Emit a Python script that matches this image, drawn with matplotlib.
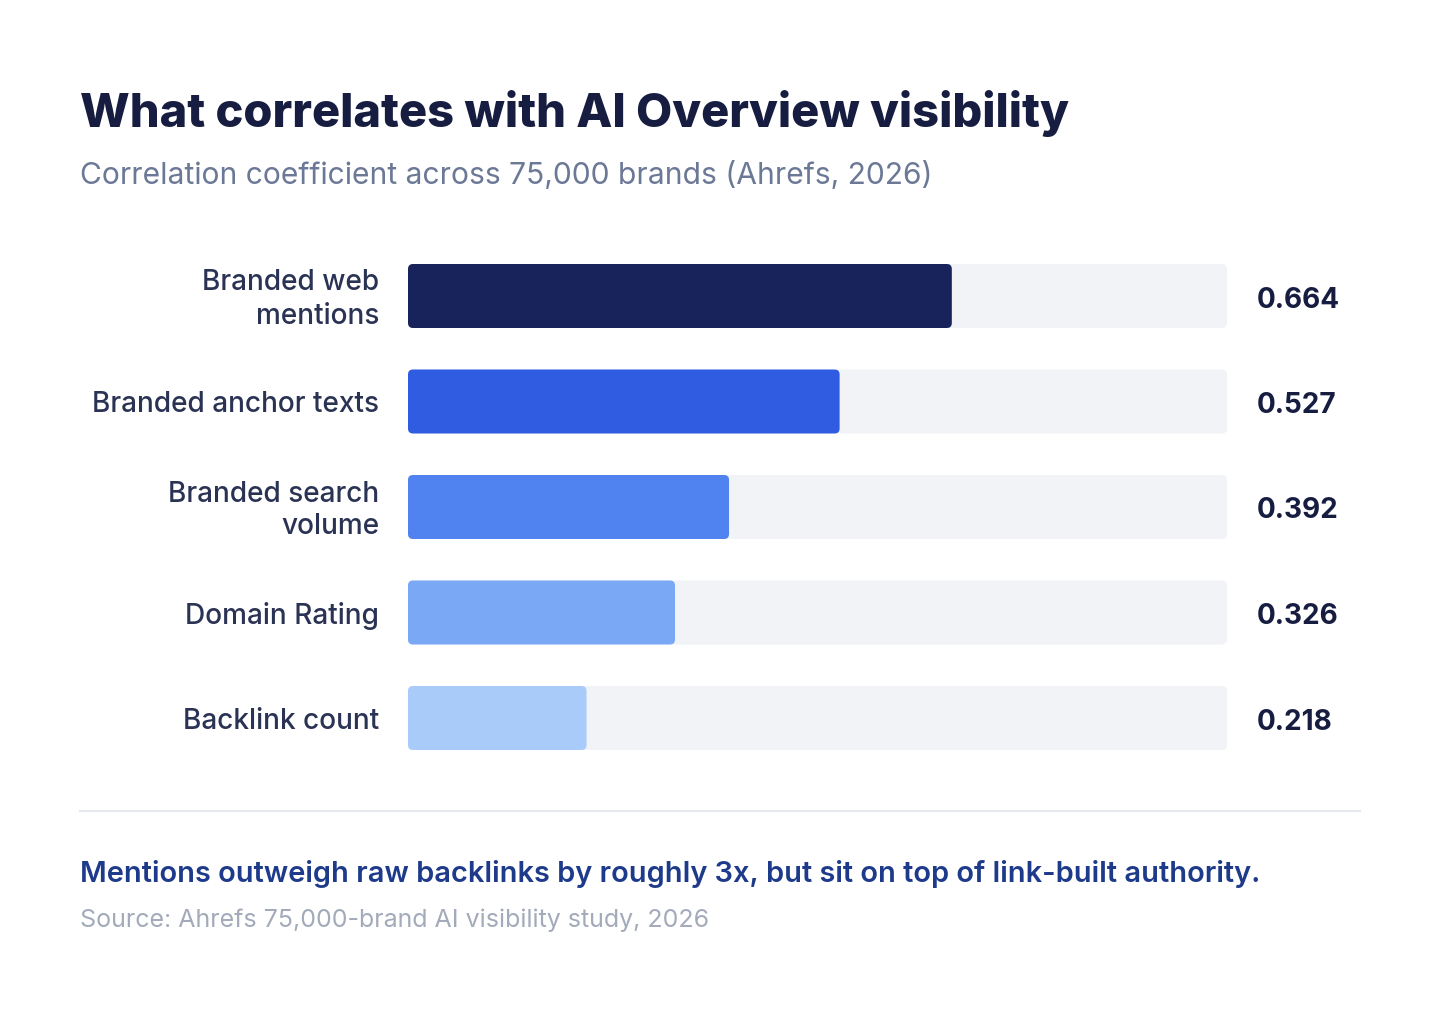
import matplotlib
matplotlib.use("Agg")
import matplotlib.pyplot as plt
from matplotlib.patches import FancyBboxPatch
from matplotlib.transforms import offset_copy

# ===============================================
# Data
# ===============================================

labels = ["Branded web\nmentions", "Branded anchor texts", "Branded search\nvolume",
          "Domain Rating", "Backlink count"]
values = [0.664, 0.527, 0.392, 0.326, 0.218]
value_text = ["0.664", "0.527", "0.392", "0.326", "0.218"]
bar_colors = ["#18235c", "#2f5ce0", "#5082f0", "#7aa8f5", "#a9cbfa"]

title = "What correlates with AI Overview visibility"
subtitle = "Correlation coefficient across 75,000 brands (Ahrefs, 2026)"
takeaway = "Mentions outweigh raw backlinks by roughly 3x, but sit on top of link-built authority."
source = "Source: Ahrefs 75,000-brand AI visibility study, 2026"

# ===============================================
# Figure
# ===============================================

W, H = 1440, 1014
DPI = 100
plt.rcParams["font.family"] = ["Inter", "DejaVu Sans"]
fig = plt.figure(figsize=(W / DPI, H / DPI), dpi=DPI)
fig.patch.set_facecolor("white")


def pt(px):
    return px * 72 / DPI


def fx(x):
    return x / W


def fy(y):
    return 1 - y / H


# bar area: track from x=408 to 1227, bars from y=264 to 750
track_l, track_r = 408, 1227
top, bottom = 264, 750
ax = fig.add_axes([fx(track_l), fy(bottom), fx(track_r - track_l), (bottom - top) / H])
n = len(values)
step = (bottom - top - 64) / (n - 1)
bar_h = 64 / step
ax.set_xlim(0, 1)
ax.set_ylim(n - 1 + bar_h / 2, -bar_h / 2)
ax.axis("off")

x_px = track_r - track_l
rad = 5 / x_px
aspect = x_px / step


def shifted(px_down):
    # data transform shifted down by a number of pixels
    return offset_copy(ax.transData, fig=fig, x=0, y=-pt(px_down), units="points")


for i, (v, c) in enumerate(zip(values, bar_colors)):
    track = FancyBboxPatch((0, i - bar_h / 2), 1, bar_h,
                           boxstyle=f"round,pad=0,rounding_size={rad}",
                           mutation_aspect=aspect, facecolor="#f1f3f7",
                           edgecolor="none", clip_on=False)
    ax.add_patch(track)
    bar = FancyBboxPatch((0, i - bar_h / 2), v, bar_h,
                         boxstyle=f"round,pad=0,rounding_size={rad}",
                         mutation_aspect=aspect, facecolor=c,
                         edgecolor="none", clip_on=False)
    ax.add_patch(bar)

    lines = labels[i].split("\n")
    first = 11 - 16.5 * (len(lines) - 1)
    for k, line in enumerate(lines):
        ax.text(-29 / x_px, i, line, ha="right", va="baseline",
                transform=shifted(first + 33 * k),
                fontsize=pt(28), fontweight="medium", color="#2a3354")
    ax.text(1 + 30 / x_px, i, value_text[i], ha="left", va="baseline",
            transform=shifted(11.5),
            fontsize=pt(28), fontweight="bold", color="#161d40")

# titles
fig.text(fx(80), fy(127), title, ha="left", va="baseline",
         fontsize=pt(47), fontweight="heavy", color="#161d40")
fig.text(fx(80), fy(184), subtitle, ha="left", va="baseline",
         fontsize=pt(30), color="#6b7896")

# separator
fig.add_artist(plt.Line2D([fx(80), fx(1360)], [fy(811), fy(811)],
                          color="#e6e8ee", linewidth=1.5))

# footer
fig.text(fx(80), fy(882), takeaway, ha="left", va="baseline",
         fontsize=pt(29), fontweight="semibold", color="#1e3a8a")
fig.text(fx(80), fy(927), source, ha="left", va="baseline",
         fontsize=pt(25), color="#a3aab9")

fig.savefig("out.png", dpi=DPI, facecolor="white")
